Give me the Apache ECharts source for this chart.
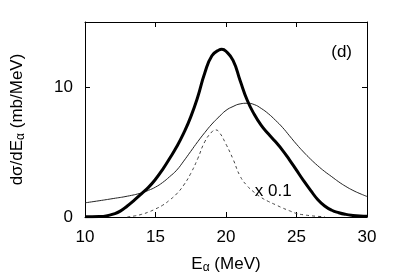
<!DOCTYPE html>
<html>
<head>
<meta charset="utf-8">
<script src="https://cdn.jsdelivr.net/npm/echarts@6/dist/echarts.min.js"></script>
<style>
html,body{margin:0;padding:0;background:#fff;}
#c{width:399px;height:279px;}
</style>
</head>
<body>
<div id="c"></div>
<script>
// Thick solid curve (x, y)
const thickX = [10,10.5,11,11.5,12,12.5,13,13.5,14,14.5,15,15.5,16,16.5,17,17.5,18,18.5,19,19.5,19.7,20,20.5,21,21.5,22,22.5,23,23.5,24,24.5,25,25.5,26,26.5,27,27.5,28,28.5,29,29.5,30];
const thickY = [0.02,0.02,0.03,0.08,0.22,0.45,0.85,1.3,1.78,2.28,2.9,3.65,4.5,5.4,6.45,7.7,9.25,11.1,12.4,12.85,12.9,12.75,12.05,10.5,9.0,7.9,7.05,6.4,5.8,5.15,4.4,3.6,2.8,2.05,1.35,0.85,0.52,0.33,0.2,0.12,0.07,0.05];
// Thin solid curve
const thinX = [10,11,12,13,14,14.5,15,15.5,16,16.5,17,17.5,18,18.5,19,19.5,20,20.5,21,21.5,22,22.5,23,23.5,24,24.5,25,25.5,26,26.5,27,27.5,28,28.5,29,29.5,30];
const thinY = [1.09,1.25,1.42,1.6,1.85,2.05,2.3,2.65,3.1,3.6,4.3,5.05,5.8,6.5,7.15,7.7,8.2,8.5,8.7,8.75,8.65,8.35,7.95,7.45,6.9,6.25,5.6,5.0,4.45,3.95,3.5,3.1,2.7,2.35,2.05,1.8,1.58];
// Dotted curve (x 0.1)
const dotX = [13,13.5,14,14.5,15,15.5,16,16.5,17,17.5,18,18.5,19,19.25,19.5,20,20.5,21,21.5,22,22.5,23,23.5,24,24.5,25,25.5,26,26.5,27];
const dotY = [0,0.08,0.2,0.38,0.62,0.9,1.3,1.78,2.45,3.35,4.5,5.8,6.55,6.7,6.55,5.6,4.45,3.15,2.4,1.9,1.5,1.2,0.95,0.7,0.48,0.27,0.17,0.1,0.05,0.02];
// Tick values
const xTicks = {min:10, max:30, interval:5};
const yTicks = {min:0, max:15, interval:10};
// Annotations: [x, y, text]
const notes = [[28.2, 12.7, '(d)'], [23.35, 2.0, 'x 0.1']];

const zip = (xs, ys) => xs.map((x, i) => [x, ys[i]]);
const FONT = 'Liberation Sans';
const chart = echarts.init(document.getElementById('c'), null, {renderer:'canvas'});
const axisLine = {show:true, onZero:false, lineStyle:{color:'#000', width:1}};
const tick = {show:true, inside:true, length:5, lineStyle:{color:'#000', width:1}};
const rich = {a:{fontSize:17, color:'#000', fontFamily:FONT, lineHeight:20}, s:{fontSize:12, color:'#000', fontFamily:FONT, lineHeight:10, verticalAlign:'bottom'}};
chart.setOption({
  animation:false,
  backgroundColor:'#fff',
  textStyle:{fontFamily:FONT},
  grid:{left:85, top:22, width:282, height:200, containLabel:false},
  xAxis:[
    {type:'value', position:'bottom', min:xTicks.min, max:xTicks.max, interval:xTicks.interval,
     axisLine, axisTick:tick, splitLine:{show:false},
     axisLabel:{color:'#000', fontSize:17, margin:12, fontFamily:FONT},
     name:'{a|E}{s|α}{a| (MeV)}', nameLocation:'middle', nameGap:37,
     nameTextStyle:{rich}},
    {type:'value', position:'top', min:xTicks.min, max:xTicks.max, interval:xTicks.interval,
     axisLine, axisTick:tick, axisLabel:{show:false}, splitLine:{show:false}}
  ],
  yAxis:[
    {type:'value', position:'left', min:yTicks.min, max:yTicks.max, interval:yTicks.interval,
     axisLine, axisTick:tick, splitLine:{show:false},
     axisLabel:{color:'#000', fontSize:17, margin:12, showMaxLabel:false, fontFamily:FONT},
     name:'{a|dσ/dE}{s|α}{a| (mb/MeV)}', nameLocation:'middle', nameGap:58, nameRotate:90,
     nameTextStyle:{rich}},
    {type:'value', position:'right', min:yTicks.min, max:yTicks.max, interval:yTicks.interval,
     axisLine, axisTick:tick, axisLabel:{show:false}, splitLine:{show:false}}
  ],
  series:[
    {type:'line', data:zip(thinX, thinY), smooth:0.5, symbol:'none', lineStyle:{color:'#222', width:1}, z:2},
    {type:'line', data:zip(dotX, dotY), smooth:0.5, symbol:'none', lineStyle:{color:'#444', width:1, type:[3,3]}, z:2},
    {type:'line', data:zip(thickX, thickY), smooth:0.5, symbol:'none', lineStyle:{color:'#000', width:3}, z:3},
    {type:'scatter', data:notes, symbolSize:0, silent:true, z:4, itemStyle:{opacity:1},
     label:{show:true, position:'inside', formatter:p => p.data[2], color:'#000', fontSize:17, fontFamily:FONT, opacity:1}}
  ]
});
</script>
</body>
</html>
